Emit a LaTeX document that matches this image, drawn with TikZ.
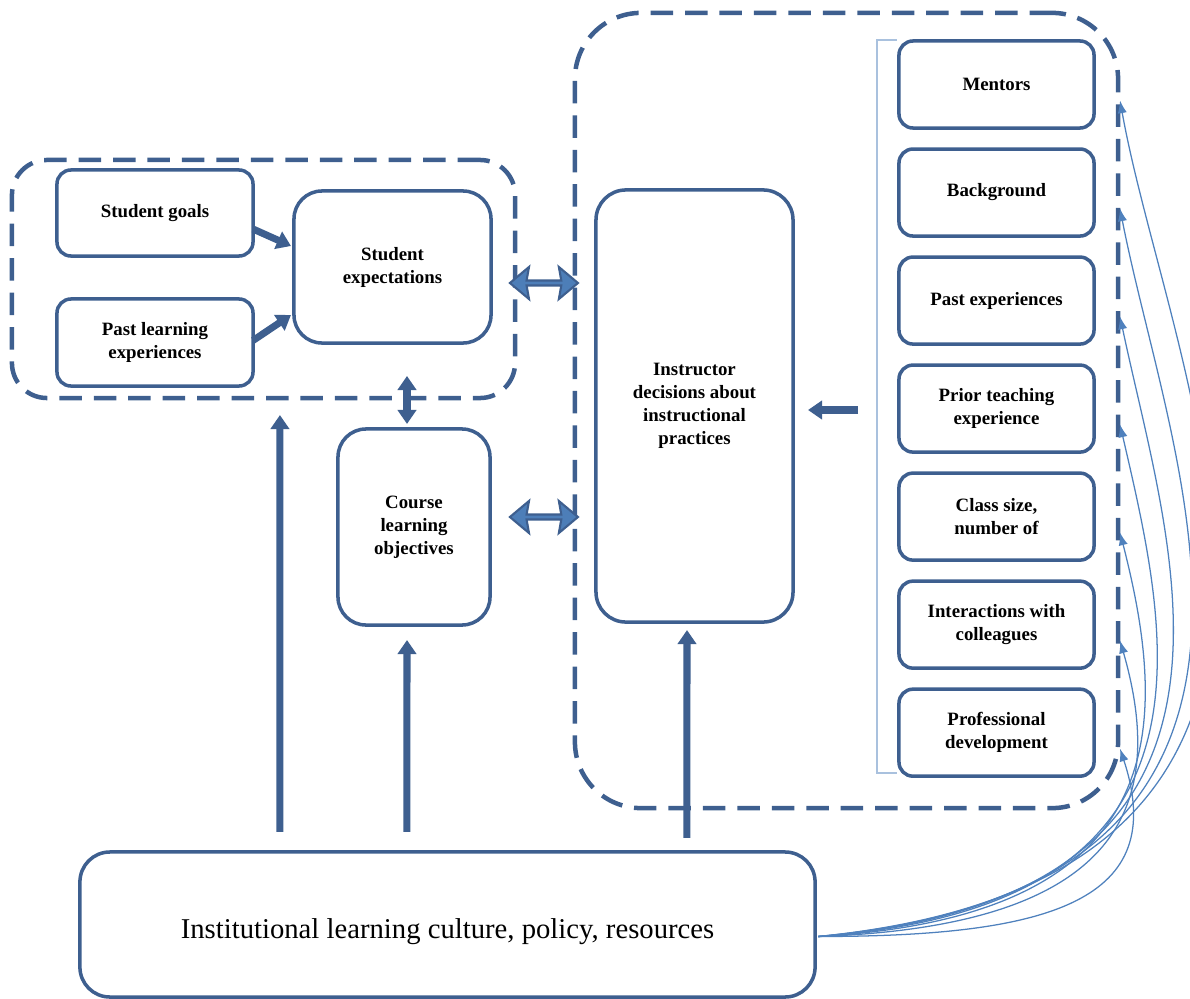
\documentclass[tikz,border=0pt]{standalone}
\usepackage{fontspec}
\setmainfont{Liberation Serif}
\usetikzlibrary{arrows.meta,calc,positioning,shapes.arrows}
\definecolor{navy}{HTML}{3E5F8F}
\definecolor{midblue}{HTML}{4F81BD}
\definecolor{paleblue}{HTML}{A9C1DE}

\begin{document}
\begin{tikzpicture}[
  x=0.025cm, y=-0.025cm,
  ibox/.style      = {draw=navy, line width=2.5pt, rounded corners=#1,
                      align=center, inner sep=2pt, outer sep=0pt,
                      font=\fontsize{13.4}{16.4}\selectfont\bfseries},
  ibox/.default    = 0.35cm,
  rbox/.style      = {ibox, minimum width=4.875cm, minimum height=2.175cm},
  dashframe/.style = {draw=navy, line width=3.2pt, outer sep=0pt,
                      dash pattern=on 16pt off 8.5pt, rounded corners=#1},
  arr/.style       = {-{Triangle[length=10pt,width=13pt]},
                      line width=5pt, draw=navy},
  darr/.style      = {{Triangle[length=10pt,width=13pt]}-{Triangle[length=10pt,width=13pt]},
                      line width=5pt, draw=navy},
  blockarr/.style  = {double arrow, draw=navy, fill=midblue!90!navy, line width=1.5pt,
                      minimum height=1.7cm, minimum width=0.8cm,
                      double arrow head extend=0.14cm, double arrow head indent=0.06cm,
                      double arrow tip angle=80, inner sep=0pt},
  infl/.style      = {-{Latex[length=9pt,width=6.5pt]}, line width=0.9pt, draw=midblue},
  node distance = 0.525cm,
]
\useasboundingbox (0,0) rectangle (1190,999);

% dashed groupings
\node[dashframe=0.875cm, minimum width=12.575cm, minimum height=5.95cm] (sframe) at (263.5,279) {};
\node[dashframe=1.65cm, minimum width=13.575cm, minimum height=19.875cm] (iframe) at (846.5,410.5) {};

% student side
\node[ibox, minimum width=4.9cm, minimum height=2.15cm] (sgoal) at (155,213) {Student goals};
\node[ibox, minimum width=4.9cm, minimum height=2.175cm] (plearn) at (155,342.5) {Past learning\\experiences};
\node[ibox=0.7cm, minimum width=4.925cm, minimum height=3.8cm] (sexp) at (392.5,267) {Student\\expectations};
\node[ibox=0.7cm, minimum width=3.8cm, minimum height=4.9cm] (course) at (414,527) {Course\\learning\\objectives};

% instructor side
\node[ibox=0.75cm, minimum width=4.925cm, minimum height=10.8cm] (instr) at (694.5,406)
  {Instructor\\decisions about\\instructional\\practices};
\node[rbox] (r1) at (996.5,84.5) {Mentors};
\node[rbox, below=of r1] (r2) {Background};
\node[rbox, below=of r2] (r3) {Past experiences};
\node[rbox, below=of r3] (r4) {Prior teaching\\experience};
\node[rbox, below=of r4] (r5) {Class size,\\number of};
\node[rbox, below=of r5] (r6) {Interactions with\\colleagues};
\node[rbox, below=of r6] (r7) {Professional\\development};

\node[ibox=0.75cm, minimum width=18.375cm, minimum height=3.625cm,
      text height=25pt, font=\fontsize{20.4}{24}\selectfont] (inst) at (447.5,924.5)
  {Institutional learning culture, policy, resources};

% links
\draw[arr] ($(sgoal.east)+(0,16)$) -- ($(sexp.west)+(-3,-21)$);
\draw[arr] ($(plearn.east)+(0,-2)$) -- ($(sexp.west)+(-3,48)$);
\draw[darr] ($(course.north)+(-7,-53)$) -- ($(course.north)+(-7,-5)$);
\node[blockarr] (ba1) at ($(iframe.west |- sexp.east)+(-31,16)$) {};
\node[blockarr] (ba2) at ($(iframe.west |- course.east)+(-31,-10)$) {};
\draw[arr] ($(instr.east)+(65,4)$) -- ($(instr.east)+(15,4)$);
\draw[arr] ($(inst.north west)+(200,-20)$) -- ($(sframe.south west)+(268,17)$);
\draw[arr] ($(inst.north west)+(327,-20)$) -- ($(course.south)+(-7,15)$);
\draw[arr] ($(inst.north west)+(607,-14)$) -- ($(instr.south)+(-7.5,8)$);

% bracket round the influences
\draw[paleblue, line width=1pt] ($(r1.north west)+(-2,-1)$) -- ++(-20,0) |- ($(r7.south west)+(-2,-3)$);

% institution feeds every influence
\coordinate (src) at ($(inst.east)+(3,12)$);
\foreach \i [evaluate=\i as \a using {600-61.3*(\i-1)},
             evaluate=\i as \b using {-60+10*(\i-1)},
             evaluate=\i as \d using {280-21.3*(\i-1)}] in {1,...,7}
  \draw[infl] (src) .. controls +(\a,\b) and +(50,\d) .. ($(r\i.east)+(26,16)$);
\end{tikzpicture}
\end{document}
